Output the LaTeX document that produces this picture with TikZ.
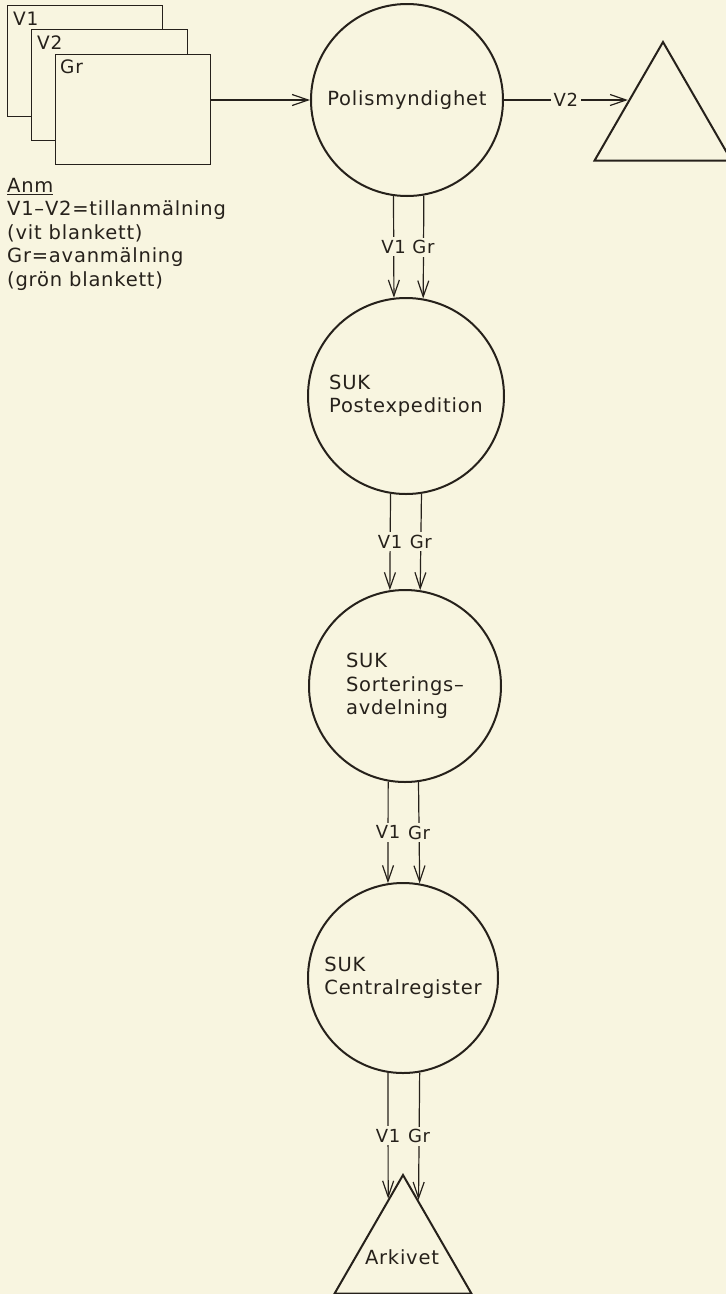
\documentclass[tikz,border=0pt]{standalone}
\usepackage{fontspec}
\newfontfamily\lett[LetterSpace=4]{DejaVu Sans}
\usetikzlibrary{arrows.meta,shapes.geometric}
\definecolor{bg}{RGB}{248,245,224}
\definecolor{ink}{RGB}{38,33,27}
\begin{document}
\begin{tikzpicture}[x=1pt,y=-1pt,
  every node/.style={text=ink, font=\lett\fontsize{19.5}{23.5}\selectfont},
  circ/.style={circle, draw=ink, line width=2pt, minimum size=192pt, inner sep=0pt, align=left},
  tri/.style={regular polygon, regular polygon sides=3, draw=ink, line width=2pt, minimum size=158pt, inner sep=0pt},
  sheet/.style={draw=ink, line width=1.2pt, fill=bg, anchor=north west, inner sep=0pt},
  sheetlbl/.style={anchor=base west, inner sep=0pt, font=\lett\fontsize{18.5}{20}\selectfont},
  arr/.style={draw=ink, line width=1.2pt, -{Straight Barb[length=16pt,width=11pt]}},
  lbl/.style={fill=bg, inner xsep=0.5pt, inner ysep=3pt, text height=13pt, text depth=0pt,
    font=\lett\fontsize{18}{20}\selectfont},
]
\fill[bg] (0,0) rectangle (726,1294);
\useasboundingbox (0,0) rectangle (726,1294);
\clip (0,0) rectangle (726,1294);

% stacked forms
\node[sheet, minimum width=155pt, minimum height=111pt] (s1) at (7,5) {};
\node[sheetlbl] (t1) at (13,25) {V1};
\node[sheet, minimum width=156pt, minimum height=111pt] (s2) at (31,29) {};
\node[sheetlbl] (t2) at (37,49) {V2};
\node[sheet, minimum width=155pt, minimum height=110pt] (s3) at (55,54) {};
\node[sheetlbl] (t3) at (60,73) {Gr};

% note
\node[anchor=north west, inner sep=0pt, align=left] (anm) at (7,178)
  {\underline{Anm}\\V1–V2=tillanmälning\\(vit blankett)\\Gr=avanmälning\\(grön blankett)};

% stations
\node[circ] (polis) at (407,100) {Polismyndighet};
\node[circ, minimum size=196pt] (post) at (406,396) {SUK\\Postexpedition};
\node[circ] (sort) at (405,686) {SUK\\Sorterings–\\avdelning};
\node[circ, minimum size=190pt] (central) at (403,978) {SUK\\Centralregister};

\node[tri] (dest) at (663,121) {};
\node[tri] (arkiv) at (403,1254) {};
\node (arkivlbl) at (402,1257) {Arkivet};

% flows
\draw[arr] (s3.east |- polis.west) -- (polis.west);
\draw[arr] (polis.east) -- node[lbl, inner xsep=3pt] (l0) {V2} (polis.east -| dest.side 1);

\draw[arr] (polis.-98.4) -- node[lbl] (l1a) {V1} (post.97.6);
\draw[arr] (polis.-80.4) -- node[lbl] (l1b) {Gr} (post.80);

\draw[arr] (post.-99.4) -- node[lbl] (l2a) {V1} (sort.99);
\draw[arr] (post.-81.8) -- node[lbl] (l2b) {Gr} (sort.81);

\draw[arr] (sort.-100.2) -- node[lbl] (l3a) {V1} (central.99.1);
\draw[arr] (sort.-82.2) -- node[lbl] (l3b) {Gr} (central.80.9);

\draw[arr] (central.-99.1) -- node[lbl] (l4a) {V1} (arkiv.105.8);
\draw[arr] (central.-80.9) -- node[lbl] (l4b) {Gr} (arkiv.74.2);
\end{tikzpicture}
\end{document}
